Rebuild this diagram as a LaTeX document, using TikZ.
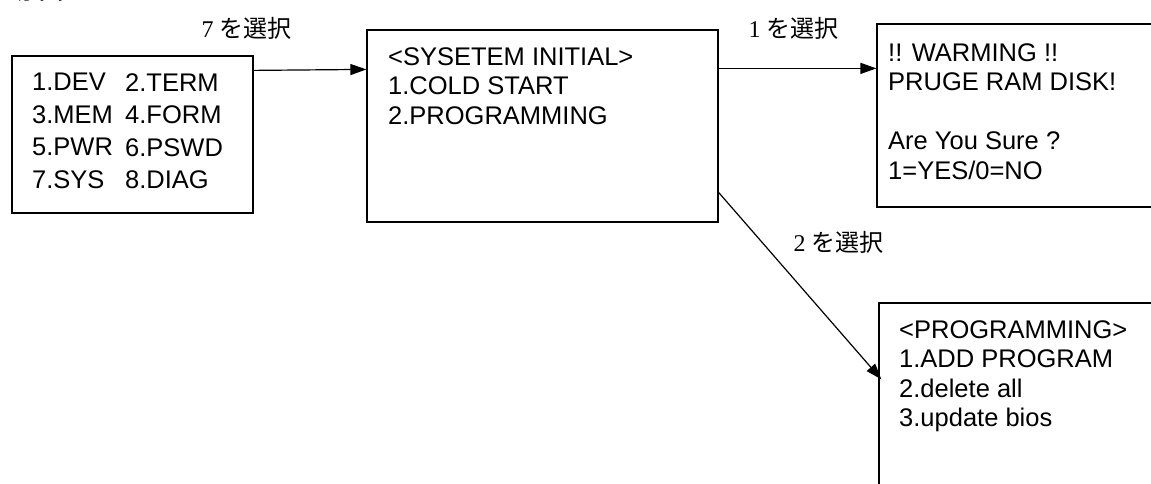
\documentclass[tikz,border=0pt]{standalone}
\usepackage{fontspec}
\setmainfont{Liberation Sans}
\newfontfamily\cjk{Noto Sans CJK JP}
\newfontfamily\digfont{Liberation Serif}
\usetikzlibrary{arrows.meta}
\tikzset{
  screen/.style={draw, line width=1.2pt, inner sep=0pt},
  scrtext/.style={anchor=north west, inner sep=0pt, align=left, font=\fontsize{25.5}{29.5}\selectfont},
  scrtextwide/.style={anchor=north west, inner sep=0pt, align=left, font=\fontsize{25.5}{32.5}\selectfont},
  conn/.style={line width=1.2pt, -{Triangle[length=16pt,width=11pt]}},
  choice/.style={inner sep=0pt, font=\fontsize{24}{28}\selectfont},
}
\newcommand{\sel}[1]{{\digfont #1}\hspace{6pt}{\cjk を選択}}
\begin{document}
\begin{tikzpicture}[x=1pt,y=-1pt]
\useasboundingbox (0,0) rectangle (1151,484);
% heading, cut off at the top edge as in the reference
\node[anchor=base west, inner sep=0pt, font=\cjk\fontsize{34}{40}\selectfont] (head) at (0,-1) {場合をモードで};
% boxes
\node[screen, minimum width=241pt, minimum height=157pt] (A) at (132.5,134.5) {};
\node[screen, minimum width=351pt, minimum height=192pt] (B) at (542.5,126) {};
\node[screen, minimum width=290pt, minimum height=183pt] (C) at (1022,115.5) {};
\node[screen, minimum width=290pt, minimum height=200pt] (D) at (1024,403) {};
% texts
\node[scrtextwide] (a1) at (32,73) {1.DEV\\3.MEM\\5.PWR\\7.SYS};
\node[scrtextwide] (a2) at (125,73) {2.TERM\\4.FORM\\6.PSWD\\8.DIAG};
\node[scrtext] (b1) at (388,47) {<SYSETEM INITIAL>\\1.COLD START\\2.PROGRAMMING};
\node[scrtext] (c1) at (888,43) {!! WARMING !!\\PRUGE RAM DISK!\\[29.5pt]Are You Sure ?\\1=YES/0=NO};
\node[scrtext] (d1) at (899,320) {<PROGRAMMING>\\1.ADD PROGRAM\\2.delete all\\3.update bios};
% connectors
\draw[conn] ([yshift=-15pt]A.north east) -- ([yshift=-40pt]B.north west);
\draw[conn] ([yshift=-39pt]B.north east) -- ([yshift=-45pt]C.north west);
\draw[conn] ([yshift=-163pt]B.north east) -- ([xshift=3pt,yshift=-77pt]D.north west);
% labels
\node[choice] (l7) at (246.5,28) {\sel{7}};
\node[choice] (l1) at (793.5,28.5) {\sel{1}};
\node[choice] (l2) at (838.5,242.5) {\sel{2}};
\end{tikzpicture}
\end{document}
